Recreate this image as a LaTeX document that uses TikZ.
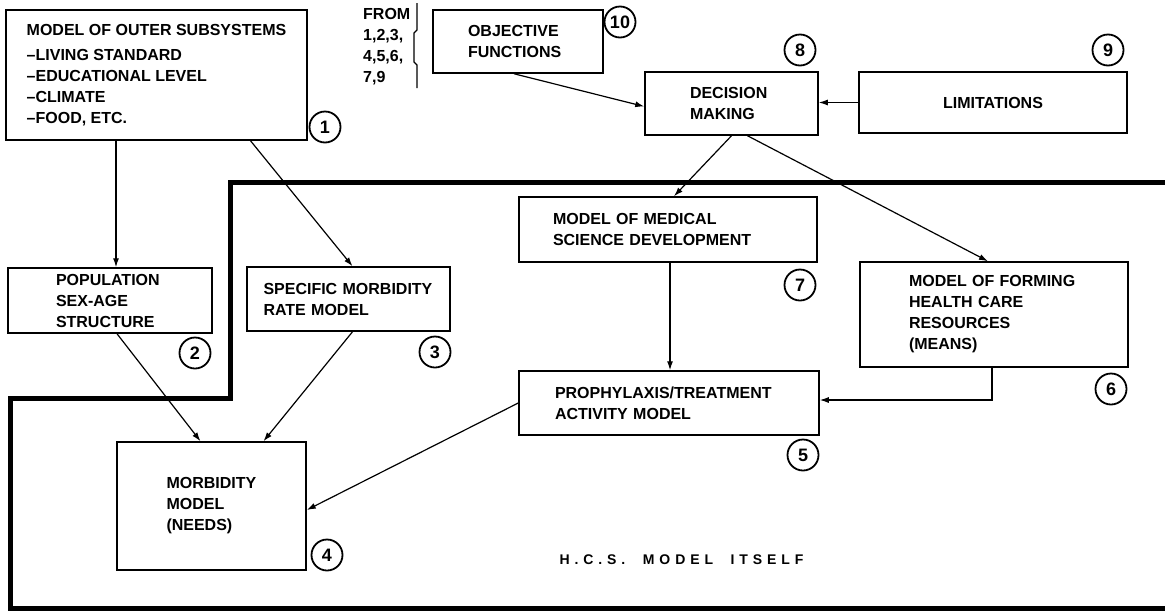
\documentclass[tikz,border=0pt]{standalone}
\usepackage{fontspec}
\setmainfont{Liberation Sans}
\usetikzlibrary{arrows.meta}
\hyphenpenalty=10000

\tikzset{
    blk/.style={draw, line width=1.5pt, inner sep=0pt, align=left,
        font=\bfseries\fontsize{16}{21}\selectfont},
    num/.style={draw, circle, line width=1.8pt, minimum size=31pt, inner sep=0pt,
        font=\bfseries\fontsize{18}{18}\selectfont},
    arr/.style={line width=1.2pt, -{Latex[length=9pt,width=6pt]}},
    border/.style={line width=5pt, line join=miter}
}

\begin{document}
\begin{tikzpicture}[x=1pt, y=-1pt]
    \useasboundingbox (0,0) rectangle (1165,611);
    % boxes
    \node[blk, minimum width=301pt, minimum height=130pt] (outer) at (156.5,75)
        {MODEL OF OUTER SUBSYSTEMS\\[4pt]--LIVING STANDARD\\--EDUCATIONAL LEVEL\\--CLIMATE\\--FOOD, ETC.};
    \node[blk, minimum width=170pt, minimum height=63pt, text width=100pt] (objective) at (518,41.5)
        {OBJECTIVE\\FUNCTIONS};
    \node[blk, minimum width=173pt, minimum height=63pt, text width=83pt] (decision) at (731.5,103.5)
        {DECISION\\MAKING};
    \node[blk, minimum width=268pt, minimum height=61pt, align=center] (limits) at (993,102.5)
        {LIMITATIONS};
    \node[blk, minimum width=204pt, minimum height=65pt, text width=108pt] (population) at (110,300.5)
        {POPULATION\\SEX-AGE\\STRUCTURE};
    \node[blk, minimum width=203pt, minimum height=64pt, text width=170pt] (specific) at (348.5,299)
        {SPECIFIC MORBIDITY\\RATE MODEL};
    \node[blk, minimum width=189pt, minimum height=128pt, text width=90pt] (morbidity) at (211.5,506)
        {MORBIDITY\\MODEL\\(NEEDS)};
    \node[blk, minimum width=298pt, minimum height=65pt, text width=230pt] (science) at (668,229.5)
        {MODEL OF MEDICAL\\SCIENCE DEVELOPMENT};
    \node[blk, minimum width=300pt, minimum height=64pt, text width=228pt] (treatment) at (669,403)
        {PROPHYLAXIS/TREATMENT\\ACTIVITY MODEL};
    \node[blk, minimum width=268pt, minimum height=105pt, text width=170pt] (resources) at (994,314.5)
        {MODEL OF FORMING\\HEALTH CARE\\RESOURCES\\(MEANS)};

    % source list
    \node[anchor=west, inner sep=0pt, align=left, font=\bfseries\fontsize{16}{21}\selectfont] (from) at (363,46.5)
        {FROM\\1,2,3,\\4,5,6,\\7,9};
    \draw[line width=1.2pt] (417,3) -- (417,30) -- (414,33) -- (414,62) -- (417,65) -- (417,88);

    % numbers
    \node[num] (n1) at (325,127) {1};
    \node[num] (n2) at (195,353) {2};
    \node[num] (n3) at (435,352) {3};
    \node[num] (n4) at (327,555) {4};
    \node[num] (n5) at (803,455) {5};
    \node[num] (n6) at (1111,389) {6};
    \node[num] (n7) at (800,285) {7};
    \node[num] (n8) at (800,50) {8};
    \node[num] (n9) at (1108,50) {9};
    \node[num] (n10) at (620,22) {10};

    % system border
    \draw[border] (1165,182) -- (230,182) -- (230,398) -- (10,398) -- (10,608) -- (1165,608);
    \node[font=\bfseries\fontsize{14}{14}\selectfont\addfontfeature{LetterSpace=35}] (hcs) at (681.5,560)
        {H.C.S.\ \ MODEL\ \ ITSELF};

    % links
    \draw[arr] ([xshift=6pt]population.north |- outer.south) -- ([xshift=6pt]population.north);
    \draw[arr] ([xshift=94pt]outer.south) -- ([xshift=4pt]specific.north);
    \draw[arr] ([xshift=-4pt]objective.south) -- ([yshift=-3pt]decision.west);
    \draw[arr] (limits.west) -- (limits.west -| decision.east);
    \draw[arr] (decision.south) -- ([xshift=6pt]science.north);
    \draw[arr] ([xshift=16pt]decision.south) -- ([xshift=-6pt]resources.north);
    \draw[arr] ([xshift=2pt]science.south) -- ([xshift=2pt]science.south |- treatment.north);
    \draw[arr] ([xshift=-2pt]resources.south) |- ([yshift=3pt]treatment.east);
    \draw[arr] ([xshift=7pt]population.south) -- ([xshift=-11pt]morbidity.north);
    \draw[arr] ([xshift=4pt]specific.south) -- ([xshift=52pt]morbidity.north);
    \draw[arr] (treatment.west) -- ([yshift=-4pt]morbidity.east);
\end{tikzpicture}
\end{document}
